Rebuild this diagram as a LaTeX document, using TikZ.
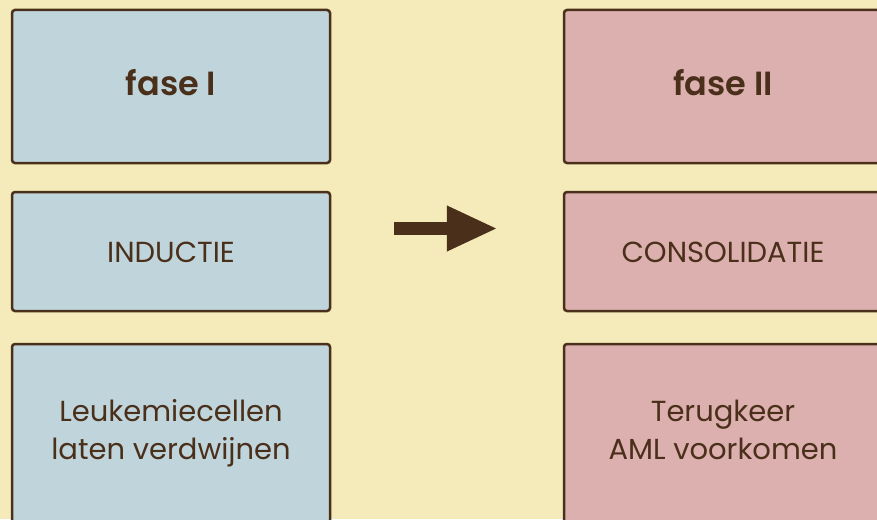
\documentclass[tikz,border=0pt]{standalone}
\usepackage{fontspec}
\setmainfont{Poppins}[BoldFont={Poppins SemiBold}]
\usetikzlibrary{arrows.meta}

\definecolor{paper}{HTML}{F5EAB9}
\definecolor{bruin}{HTML}{4A2F1A}
\definecolor{blauw}{HTML}{BFD5DB}
\definecolor{roze}{HTML}{DDB0B0}

\begin{document}
\begin{tikzpicture}[x=1pt,y=-1pt,
			box node/.style={rectangle,draw=bruin,line width=2.5pt,rounded corners=3pt,minimum width=318pt,inner sep=0pt},
			fase node/.style={box node,minimum height=153pt},
			stap node/.style={box node,minimum height=119pt},
			doel node/.style={box node,minimum height=200pt},
			tekst node/.style={text=bruin,align=center,font=\fontsize{29}{37.6}\selectfont},
			kop node/.style={text=bruin,font=\fontsize{33.5}{40}\selectfont\bfseries},
			pijl/.style={line width=13pt,draw=bruin,-{Triangle[width=42pt,length=51pt]}}
			]
			
			\def \links {171};
			\def \rechts {723};
			
			\useasboundingbox (0,0) rectangle (877,519);
			\fill[paper] (0,0) rectangle (877,519);
			\clip (0,0) rectangle (877,519);
			
			% fase I
			\node[fase node,fill=blauw] (fase1) at (\links,86.5) {};
			\node[stap node,fill=blauw] (inductie) at (\links,251.5) {};
			\node[doel node,fill=blauw] (doel1) at (\links,444) {};
			
			% fase II
			\node[fase node,fill=roze] (fase2) at (\rechts,86.5) {};
			\node[stap node,fill=roze] (consolidatie) at (\rechts,251.5) {};
			\node[doel node,fill=roze] (doel2) at (\rechts,444) {};
			
			\node[kop node] (kop1) at ([yshift=3.5pt]fase1.center) {fase I};
			\node[kop node] (kop2) at ([yshift=3.5pt]fase2.center) {fase II};
			\node[tekst node] (stap1) at ([yshift=-1pt]inductie.center) {INDUCTIE};
			\node[tekst node] (stap2) at ([yshift=-1pt]consolidatie.center) {CONSOLIDATIE};
			\node[tekst node] (tekst1) at ([yshift=11pt]doel1.center) {Leukemiecellen\\laten verdwijnen};
			\node[tekst node] (tekst2) at ([yshift=14pt]doel2.center) {Terugkeer\\AML voorkomen};
			
			\draw[pijl,shorten <=63pt,shorten >=65pt] ([yshift=23pt]inductie.east) -- ([yshift=23pt]consolidatie.west);
			
			\end{tikzpicture}
\end{document}
